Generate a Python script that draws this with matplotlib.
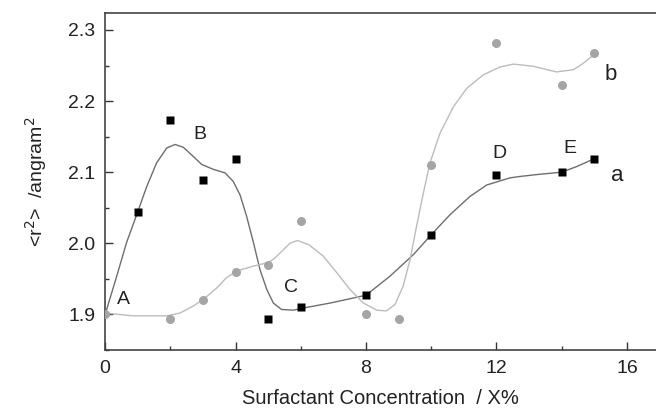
import matplotlib
matplotlib.use("Agg")
import matplotlib.pyplot as plt
from matplotlib.ticker import MultipleLocator

plt.rcParams["font.family"] = ["Liberation Sans", "DejaVu Sans"]

# ── Measured points ───────────────────────────────────────────────────────────
conc_a = [1, 2, 3, 4, 5, 6, 8, 10, 12, 14, 15]
r2_a = [2.044, 2.173, 2.089, 2.119, 1.894, 1.911, 1.927, 2.012, 2.096, 2.100, 2.119]

conc_b = [0, 2, 3, 4, 5, 6, 8, 9, 10, 12, 14, 15]
r2_b = [1.900, 1.893, 1.921, 1.960, 1.970, 2.032, 1.901, 1.893, 2.110, 2.281, 2.222, 2.267]

# ── Fitted curves ─────────────────────────────────────────────────────────────
fit_x_a = [0, 0.05, 0.36, 0.66, 1.0, 1.28, 1.58, 1.89, 2.15, 2.40, 2.71, 2.96,
           3.32, 3.68, 3.93, 4.14, 4.34, 4.55, 4.75, 4.96, 5.16, 5.41, 5.77,
           6.08, 6.90, 8.0, 8.74, 9.45, 10.0, 10.57, 11.19, 11.70, 12.41, 12.72,
           13.3, 14.0, 14.46, 15.0]
fit_y_a = [1.900, 1.907, 1.954, 2.001, 2.044, 2.080, 2.113, 2.134, 2.139, 2.135,
           2.122, 2.111, 2.104, 2.099, 2.087, 2.068, 2.038, 2.001, 1.963, 1.935,
           1.916, 1.907, 1.906, 1.909, 1.916, 1.927, 1.954, 1.984, 2.012, 2.040,
           2.066, 2.082, 2.092, 2.094, 2.097, 2.100, 2.108, 2.119]

fit_x_b = [0, 0.87, 1.89, 2.30, 2.71, 3.01, 3.42, 3.73, 4.04, 4.55, 5.01, 5.20,
           5.40, 5.67, 5.90, 6.25, 6.69, 7.10, 7.51, 7.92, 8.33, 8.63, 8.89, 9.14,
           9.35, 9.55, 9.76, 9.96, 10.27, 10.68, 11.09, 11.60, 12.11, 12.52,
           13.13, 13.84, 14.35, 14.66, 15.0]
fit_y_b = [1.902, 1.898, 1.898, 1.902, 1.912, 1.921, 1.937, 1.952, 1.961, 1.968,
           1.973, 1.979, 1.988, 2.000, 2.004, 1.998, 1.982, 1.959, 1.935, 1.916,
           1.906, 1.905, 1.914, 1.940, 1.977, 2.024, 2.071, 2.113, 2.155, 2.192,
           2.218, 2.237, 2.248, 2.252, 2.249, 2.241, 2.244, 2.253, 2.266]

point_labels = ["A", "B", "C", "D", "E"]
point_label_xy = [(0.55, 1.921), (2.91, 2.153), (5.70, 1.938), (12.08, 2.127), (14.25, 2.134)]
curve_labels = ["a", "b"]
curve_label_xy = [(15.69, 2.095), (15.51, 2.237)]

# ── Plot ──────────────────────────────────────────────────────────────────────
fig = plt.figure(figsize=(6.56, 4.12), dpi=100)
ax = fig.add_axes([0.1601, 0.1505, 0.8399, 0.8187])

ax.plot(fit_x_a, fit_y_a, color="#6e6e6e", lw=1.0, zorder=2)
ax.plot(fit_x_b, fit_y_b, color="#bcbcbc", lw=1.0, zorder=2)
ax.plot(conc_b, r2_b, "o", color="#a5a5a5", ms=6.5, mec="none", zorder=3)
ax.plot(conc_a, r2_a, "s", color="black", ms=5.8, mec="none", zorder=4)

for lab, (x, y) in zip(point_labels, point_label_xy):
    ax.text(x, y, lab, fontsize=14, ha="center", va="center", color="#222222")
for lab, (x, y) in zip(curve_labels, curve_label_xy):
    ax.text(x, y, lab, fontsize=16, ha="center", va="center", color="#222222")

ax.set_xlim(0, 16.89)
ax.set_ylim(1.85, 2.3243)
ax.xaxis.set_major_locator(MultipleLocator(4))
ax.xaxis.set_minor_locator(MultipleLocator(2))
ax.yaxis.set_major_locator(MultipleLocator(0.1))
ax.yaxis.set_minor_locator(MultipleLocator(0.05))
ax.yaxis.set_major_formatter(plt.FormatStrFormatter("%.1f"))

ax.tick_params(which="both", direction="in", top=False, right=False,
               colors="#333333", labelsize=14, labelcolor="#222222")
ax.tick_params(which="major", length=6, width=1.0, pad=7)
ax.tick_params(which="minor", length=3, width=1.0)

for side in ["left", "bottom", "top"]:
    ax.spines[side].set_color("#444444")
    ax.spines[side].set_linewidth(1.2)
ax.spines["right"].set_visible(False)

ax.set_xlabel("Surfactant Concentration  / X%", fontsize=14.5, color="#222222", labelpad=9)
ax.set_ylabel("<r$^2$>  /angram$^2$", fontsize=14, color="#222222", labelpad=14)

fig.savefig("out.png", dpi=100)
